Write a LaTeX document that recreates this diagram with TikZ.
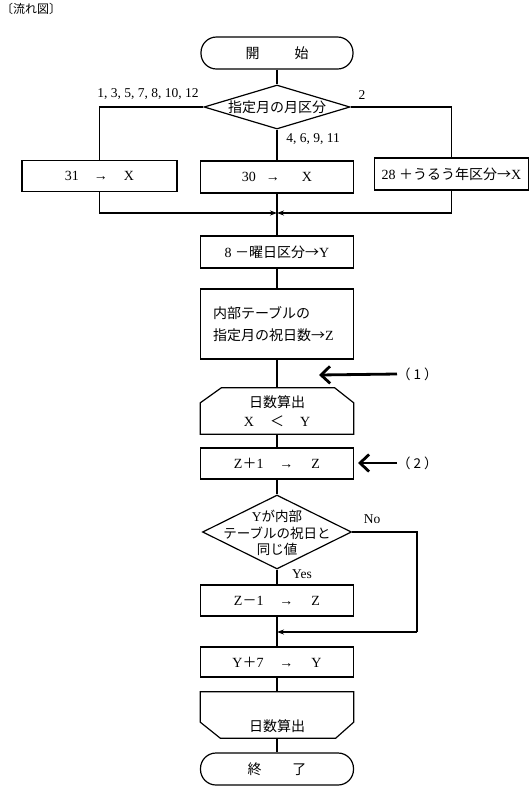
\documentclass[tikz,border=0pt]{standalone}
\usepackage{fontspec}
\setmainfont{Liberation Serif}
\newfontfamily\jp{Noto Sans CJK JP}
\usetikzlibrary{shapes.geometric,arrows.meta,calc}
\begin{document}
\begin{tikzpicture}[x=1pt,y=-1pt,
  every node/.style={inner sep=0pt},
  ln/.style={line width=1.2pt},
  txt/.style={font=\fontsize{14}{16}\selectfont},
  lbl/.style={font=\fontsize{13.5}{15}\selectfont},
  box/.style={draw,line width=1.2pt,rectangle,minimum width=153pt,minimum height=31pt,txt},
  term/.style={box,rounded corners=15.5pt},
  dec/.style={draw,line width=1.2pt,diamond},
  flow/.style={ln,-{Stealth[length=7pt,width=5pt]}},
  big/.style={line width=2.8pt,-{Straight Barb[length=9pt,width=17pt]}}
]
\fill[white] (0,0) rectangle (531,788);
\useasboundingbox (0,0) rectangle (531,788);

% title
\node[font=\fontsize{12}{14}\selectfont,anchor=west] (title) at (1,9) {\jp 〔流れ図〕};

% start
\node[term,minimum width=152pt,minimum height=32pt] (start) at (277,53) {\jp 開\hspace{2.5em}始};

% first decision
\node[dec,minimum width=146pt,minimum height=44pt] (d1) at (277,107) {};
\node[txt] (d1t) at (d1.center) {\jp 指定月の月区分};

% three boxes
\node[box,minimum width=155pt,minimum height=31pt] (bL) at (99.5,176) {31\hspace{15pt}→\hspace{16pt}X};
\node[box,minimum height=32pt] (bM) at (277,177) {30\hspace{10pt}→\hspace{22pt}X};
\node[box,minimum width=154pt,minimum height=32pt] (bR) at (451.5,174) {28 {\jp ＋うるう年区分→}X};

\node[lbl] (lab1) at (148,94) {1, 3, 5, 7, 8, 10, 12};
\node[lbl] (lab2) at (362,95) {2};
\node[lbl] (lab3) at (313,139) {4, 6, 9, 11};

\draw[ln] (start.south) -- (d1.north);
\draw[ln] (d1.west) -| (bL.north);
\draw[ln] (d1.east) -| (bR.north);
\draw[ln] (d1.south) -- (bM.north);

% merge
\coordinate (mg) at (277,213);
\node[box,minimum height=32pt] (bY) at (277,252) {8 {\jp －曜日区分→}Y};
\draw[flow] (bL.south) |- (mg);
\draw[flow] (bR.south) |- (mg);
\draw[ln] (bM.south) -- (bY.north);

% table box
\node[box,minimum height=70pt,align=left,text width=128pt,font=\fontsize{14}{22}\selectfont] (bZ) at (277,324)
  {{\jp 内部テーブルの}\\{\jp 指定月の祝日数→}Z};
\draw[ln] (bY.south) -- (bZ.north);

% loop start
\node[txt,minimum width=153pt,minimum height=46pt,align=center] (ls) at (277,411)
  {{\jp 日数算出}\\[3pt]X\hspace{16pt}{\jp ＜}\hspace{16pt}Y};
\draw[ln] (ls.south west) -- (ls.south east) -- ($(ls.north east)+(0,15)$)
  -- ($(ls.north east)+(-19,0)$) -- ($(ls.north west)+(21,0)$)
  -- ($(ls.north west)+(0,15)$) -- cycle;
\draw[ln] (bZ.south) -- (ls.north);

% marker (1)
\node[font=\fontsize{13.5}{15}\selectfont,anchor=west] (p1) at (397,374) {\jp （\hspace{3pt}1\hspace{3pt}）};
\coordinate (a1) at (319,375);
\draw[big] (p1.west) -- (a1);

% Z+1
\node[box] (bP) at (277,463.5) {Z{\jp ＋}1\hspace{16pt}→\hspace{18pt}Z};
\draw[ln] (ls.south) -- (bP.north);

% marker (2)
\node[font=\fontsize{13.5}{15}\selectfont,anchor=west] (p2) at (397,463) {\jp （\hspace{3pt}2\hspace{3pt}）};
\coordinate (a2) at (358,463);
\draw[big] (p2.west) -- (a2);

% second decision
\node[dec,minimum width=149pt,minimum height=74pt] (d2) at (277,532) {};
\node[align=center,font=\fontsize{13.5}{16.5}\selectfont] (d2t) at (277,533)
  {Y{\jp が内部}\\{\jp テーブルの祝日と}\\{\jp 同じ値}};
\draw[ln] (bP.south) -- (d2.north);
\node[lbl] (no) at (372,519) {No};
\node[lbl] (yes) at (302,574) {Yes};

% Z-1
\node[box] (bM1) at (277,600.5) {Z{\jp －}1\hspace{16pt}→\hspace{18pt}Z};
\draw[ln] (d2.south) -- (bM1.north);

% Y+7
\node[box,minimum height=30pt] (bY7) at (277,662) {Y{\jp ＋}7\hspace{16pt}→\hspace{18pt}Y};
\draw[ln] (bM1.south) -- (bY7.north);

\coordinate (j) at (277,632);
\coordinate (nturn) at (417,632);
\draw[ln] (d2.east) -| (nturn);
\draw[flow] (nturn) -- (j);

% loop end
\node[txt,minimum width=153pt,minimum height=46pt] (le) at (277,715) {};
\node[txt] (let) at (277,726) {\jp 日数算出};
\draw[ln] (le.north west) -- (le.north east) -- ($(le.south east)+(0,-16)$)
  -- ($(le.south east)+(-18,0)$) -- ($(le.south west)+(20,0)$)
  -- ($(le.south west)+(0,-16)$) -- cycle;
\draw[ln] (bY7.south) -- (le.north);

% end
\node[term,minimum height=32pt] (end) at (277,769) {\jp 終\hspace{2.2em}了};
\draw[ln] (le.south) -- (end.north);
\end{tikzpicture}
\end{document}
